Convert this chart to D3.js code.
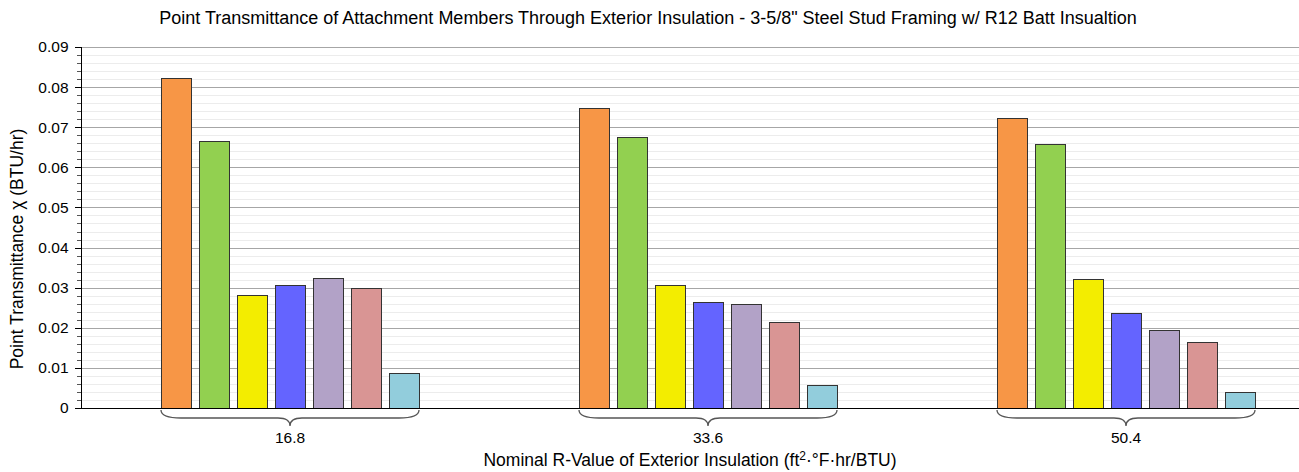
<!DOCTYPE html>
<html>
<head>
<meta charset="utf-8">
<script src="https://cdn.jsdelivr.net/npm/d3@7"></script>
<style>
  body { margin: 0; background: #fff; }
  svg { font-family: "Liberation Sans", Arial, sans-serif; display: block; }
</style>
</head>
<body>
<svg id="chart" width="1299" height="472"></svg>
<script>
// R-values of exterior insulation (x categories)
const categories = ["16.8", "33.6", "50.4"];

// point transmittance per attachment member, one array per series (BTU/hr)
const series1 = [0.0822, 0.0748, 0.0722];
const series2 = [0.0665, 0.0676, 0.0658];
const series3 = [0.0282, 0.0306, 0.0322];
const series4 = [0.0306, 0.0265, 0.0236];
const series5 = [0.0324, 0.0259, 0.0194];
const series6 = [0.0299, 0.0214, 0.0165];
const series7 = [0.0087, 0.0057, 0.0041];

const yTicks = [0, 0.01, 0.02, 0.03, 0.04, 0.05, 0.06, 0.07, 0.08, 0.09];
const colors = ["#f79646", "#92d050", "#f3ed00", "#6464ff", "#b2a2c7", "#d99594", "#92cddc"];

const allSeries = [series1, series2, series3, series4, series5, series6, series7];

var svg = d3.select('#chart');
var plotLeft = 81, plotTop = 47, plotBottom = 408, plotRight = 1299;

var y = d3.scaleLinear().domain([0, 0.09]).range([plotBottom, plotTop]);

// groups are wider than the window, the right end gets cut off
var x0 = d3.scaleBand().domain(categories).range([plotLeft, plotLeft + 3 * 418]);
var x1 = d3.scaleBand().domain(d3.range(allSeries.length))
    .range([-129, 129]).paddingInner(8 / 38).paddingOuter(0);

function py(d) { return Math.round(y(d)) + 0.5; }

// minor grid
var minor = d3.range(0, 0.0901, 0.002).filter(function (v) {
  return Math.abs(v * 100 - Math.round(v * 100)) > 1e-6;
});
svg.append('g').selectAll('line').data(minor).enter().append('line')
    .attr('x1', plotLeft).attr('x2', plotRight)
    .attr('y1', py).attr('y2', py)
    .style('stroke', '#ececec');

// major grid
svg.append('g').selectAll('line').data(yTicks.slice(1)).enter().append('line')
    .attr('x1', plotLeft).attr('x2', plotRight)
    .attr('y1', py).attr('y2', py)
    .style('stroke', '#a6a6a6');

// bars
var groups = svg.append('g').selectAll('g').data(categories).enter().append('g')
    .attr('transform', function (d) { return 'translate(' + (x0(d) + x0.bandwidth() / 2) + ',0)'; });

groups.selectAll('rect')
    .data(function (c, i) { return allSeries.map(function (s, k) { return {k: k, v: s[i]}; }); })
    .enter().append('rect')
    .attr('x', function (d) { return Math.round(x1(d.k)) + 0.5; })
    .attr('width', Math.round(x1.bandwidth()))
    .attr('y', function (d) { return py(d.v); })
    .attr('height', function (d) { return plotBottom - Math.round(y(d.v)); })
    .style('fill', function (d) { return colors[d.k]; })
    .style('stroke', '#333')
    .style('stroke-width', 1);

// y axis
var yAxis = d3.axisLeft(y).tickValues(yTicks).tickSize(0).tickPadding(13)
    .tickFormat(function (d) { return d === 0 ? '0' : d3.format('.2f')(d); });
var ga = svg.append('g').attr('transform', 'translate(' + (plotLeft + 0.5) + ',0)').call(yAxis);
ga.select('.domain').remove();
ga.selectAll('text').style('font-size', '15.5px').style('fill', '#000')
    .style('font-family', '"Liberation Sans", Arial, sans-serif');

// minor ticks on the axis
svg.append('g').selectAll('line').data(minor).enter().append('line')
    .attr('x1', plotLeft - 4).attr('x2', plotLeft)
    .attr('y1', py).attr('y2', py)
    .style('stroke', '#555');
svg.append('g').selectAll('line').data(yTicks).enter().append('line')
    .attr('x1', plotLeft - 6).attr('x2', plotLeft)
    .attr('y1', py).attr('y2', py)
    .style('stroke', '#000');

svg.append('line').attr('x1', plotLeft + 0.5).attr('x2', plotLeft + 0.5)
    .attr('y1', plotTop).attr('y2', plotBottom + 0.5).style('stroke', '#000');
svg.append('line').attr('x1', plotLeft).attr('x2', plotRight)
    .attr('y1', plotBottom + 0.5).attr('y2', plotBottom + 0.5).style('stroke', '#000');

// curly braces under each group
function brace(xa, xb, yb, h) {
  var m = (xa + xb) / 2;
  var q = h / 2;
  return 'M' + xa + ',' + yb +
    ' Q' + xa + ',' + (yb + q) + ' ' + (xa + 20) + ',' + (yb + q) +
    ' L' + (m - 12) + ',' + (yb + q) +
    ' Q' + m + ',' + (yb + q) + ' ' + m + ',' + (yb + h) +
    ' Q' + m + ',' + (yb + q) + ' ' + (m + 12) + ',' + (yb + q) +
    ' L' + (xb - 20) + ',' + (yb + q) +
    ' Q' + xb + ',' + (yb + q) + ' ' + xb + ',' + yb;
}
groups.append('path')
    .attr('d', brace(x1(0), x1(6) + x1.bandwidth(), 410, 16))
    .style('fill', 'none').style('stroke', '#555').style('stroke-width', 1.3);

groups.append('text')
    .attr('x', 0).attr('y', 443)
    .attr('text-anchor', 'middle')
    .style('font-size', '15.5px')
    .text(function (d) { return d; });

// titles
svg.append('text').attr('x', 648).attr('y', 24).attr('text-anchor', 'middle')
    .style('font-size', '18px')
    .text('Point Transmittance of Attachment Members Through Exterior Insulation - 3-5/8" Steel Stud Framing w/ R12 Batt Insualtion');

var xt = svg.append('text').attr('x', 690).attr('y', 466).attr('text-anchor', 'middle')
    .style('font-size', '17.5px');
xt.append('tspan').text('Nominal R-Value of Exterior Insulation (ft');
xt.append('tspan').attr('dy', -6).style('font-size', '12px').text('2');
xt.append('tspan').attr('dy', 6).text('\u00b7\u00b0F\u00b7hr/BTU)');

svg.append('text')
    .attr('transform', 'translate(23,249) rotate(-90)')
    .attr('text-anchor', 'middle')
    .style('font-size', '17.5px')
    .text('Point Transmittance \u03c7 (BTU/hr)');
</script>
</body>
</html>
